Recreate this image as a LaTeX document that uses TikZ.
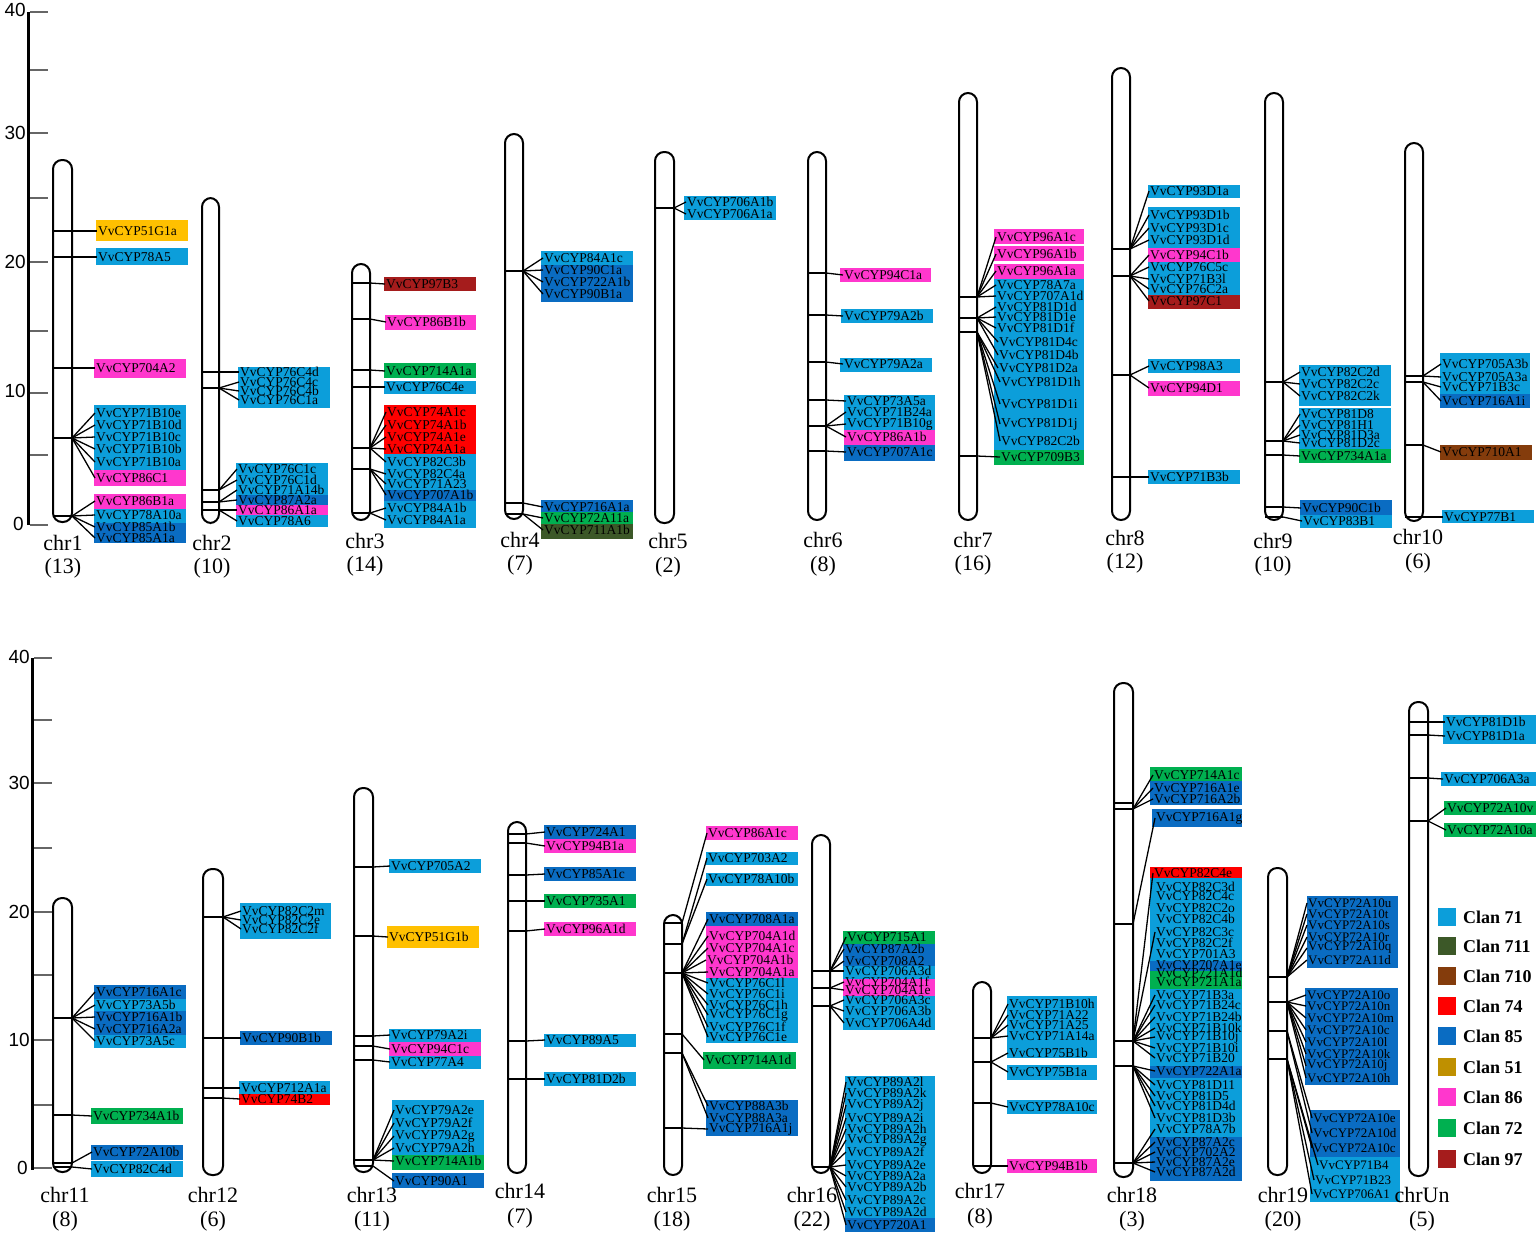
\documentclass[tikz,border=0pt]{standalone}
\usepackage{fontspec}
\setmainfont{Liberation Serif}
\newfontfamily\axfont{Liberation Sans}
\definecolor{cA}{RGB}{12,158,218}
\definecolor{cB}{RGB}{60,88,40}
\definecolor{cC}{RGB}{132,60,12}
\definecolor{cD}{RGB}{255,0,0}
\definecolor{cE}{RGB}{10,108,194}
\definecolor{cF}{RGB}{191,144,0}
\definecolor{cG}{RGB}{255,192,0}
\definecolor{cH}{RGB}{255,55,205}
\definecolor{cI}{RGB}{0,176,80}
\definecolor{cJ}{RGB}{165,28,28}
\newcommand{\Hub}[4]{\coordinate (#1) at (#3,#4);\draw[cn] (#2,#4) -- (#1);}
\newcommand{\GC}[5]{\node[gl] (#2) at (#3,#4) {VvCYP#5};\draw[cn] (#1) -- (#2.west);}
\newcommand{\GN}[4]{\node[gl] (#1) at (#2,#3) {VvCYP#4};}
\newcommand{\Bx}[5]{\fill[#1] (#2,#3) rectangle (#4,#5);}
\newcommand{\Chr}[4]{\draw[chromo] (#1,#3) rectangle (#2,#4);}
\begin{document}
\begin{tikzpicture}[x=1pt,y=-1pt,
 gl/.style={anchor=west,inner sep=1pt,font=\fontsize{13.5}{13.5}\selectfont},
 cn/.style={line width=1.3pt,black},
 chromo/.style={line width=2pt,rounded corners=9pt},
 chrl/.style={font=\fontsize{22}{22}\selectfont,inner sep=0pt},
 axl/.style={font=\axfont\fontsize{19}{19}\selectfont,anchor=east,inner sep=0pt},
 tk/.style={line width=1.2pt,black!60},
 lgsq/.style={minimum size=19pt,inner sep=0pt,draw=white,line width=0.6pt},
 lgt/.style={anchor=west,font=\bfseries\fontsize{18}{18}\selectfont,inner sep=0pt}]
\useasboundingbox (0,0) rectangle (1539,1235);
\fill[white] (0,0) rectangle (1539,1235);
% ===== axes =====
\draw[line width=3pt] (28,12) -- (28,525);
\foreach \t in {12,70,133,198,262,331,393,455,525} {\draw[tk] (30,\t) -- (48,\t);}
\node[axl] (ta40) at (26,10) {40};
\node[axl] (ta30) at (26,133) {30};
\node[axl] (ta20) at (26,262) {20};
\node[axl] (ta10) at (26,391) {10};
\node[axl] (ta0) at (24,524) {0};
\draw[line width=3pt] (32,658) -- (32,1170);
\foreach \t in {658,720,783,848,912,975,1040,1105,1168} {\draw[tk] (34,\t) -- (52,\t);}
\node[axl] (ba40) at (30,657) {40};
\node[axl] (ba30) at (30,783) {30};
\node[axl] (ba20) at (30,912) {20};
\node[axl] (ba10) at (30,1040) {10};
\node[axl] (ba0) at (28,1168) {0};
% ===== chr1 =====
\Bx{cG}{96}{220}{188}{241}
\Bx{cA}{96}{248}{188}{265}
\Bx{cH}{94}{359}{186}{378}
\Bx{cA}{94}{405}{186}{470}
\Bx{cH}{94}{470}{186}{486}
\Bx{cH}{94}{494}{186}{509}
\Bx{cA}{94}{509}{186}{523}
\Bx{cE}{94}{523}{186}{543}
\Chr{53}{72}{160}{522}
\node[chrl] (L1) at (63,543) {chr1};
\node[chrl] (N1) at (63,568) {(13)};
\Hub{h101}{53}{72}{231}\GC{h101}{g101}{97}{231}{51G1a}
\Hub{h102}{53}{72}{257}\GC{h102}{g102}{97}{257}{78A5}
\Hub{h103}{53}{72}{368}\GC{h103}{g103}{95}{368}{704A2}
\Hub{h104}{53}{72}{438}
\GC{h104}{g104}{95}{413}{71B10e}
\GC{h104}{g105}{95}{425}{71B10d}
\GC{h104}{g106}{95}{437}{71B10c}
\GC{h104}{g107}{95}{449}{71B10b}
\GC{h104}{g108}{95}{462}{71B10a}
\GC{h104}{g109}{95}{478}{86C1}
\Hub{h105}{53}{72}{516}
\GC{h105}{g110}{95}{501}{86B1a}
\GC{h105}{g111}{95}{515}{78A10a}
\GC{h105}{g112}{95}{527}{85A1b}
\GC{h105}{g113}{95}{538}{85A1a}
% ===== chr2 =====
\Bx{cA}{238}{367}{330}{408}
\Bx{cA}{236}{463}{328}{495}
\Bx{cE}{236}{495}{328}{505}
\Bx{cH}{236}{505}{328}{515}
\Bx{cA}{236}{515}{328}{527}
\Chr{202}{219}{198}{523}
\node[chrl] (L2) at (212,543) {chr2};
\node[chrl] (N2) at (212,568) {(10)};
\Hub{h201}{202}{219}{372}\GC{h201}{g201}{239}{372}{76C4d}
\Hub{h202}{202}{219}{388}
\GC{h202}{g202}{239}{382}{76C4c}
\GC{h202}{g203}{239}{391}{76C4b}
\GC{h202}{g204}{239}{400}{76C1a}
\Hub{h203}{202}{219}{490}
\GC{h203}{g205}{237}{469}{76C1c}
\GC{h203}{g206}{237}{480}{76C1d}
\Hub{h204}{202}{219}{502}
\GC{h204}{g207}{237}{490}{71A14b}
\GC{h204}{g208}{237}{500}{87A2a}
\Hub{h205}{202}{219}{510}
\GC{h205}{g209}{237}{510}{86A1a}
\GC{h205}{g210}{237}{521}{78A6}
% ===== chr3 =====
\Bx{cJ}{384}{277}{476}{291}
\Bx{cH}{385}{315}{476}{330}
\Bx{cI}{384}{363}{476}{378}
\Bx{cA}{384}{381}{476}{394}
\Bx{cD}{384}{405}{476}{454}
\Bx{cA}{384}{454}{476}{490}
\Bx{cE}{384}{490}{476}{501}
\Bx{cA}{384}{501}{476}{528}
\Chr{352}{370}{264}{520}
\node[chrl] (L3) at (365,541) {chr3};
\node[chrl] (N3) at (365,566) {(14)};
\Hub{h301}{352}{370}{283}\GC{h301}{g301}{385}{284}{97B3}
\Hub{h302}{352}{370}{319}\GC{h302}{g302}{386}{322}{86B1b}
\Hub{h303}{352}{370}{370}\GC{h303}{g303}{385}{371}{714A1a}
\Hub{h304}{352}{370}{387}\GC{h304}{g304}{385}{387}{76C4e}
\Hub{h305}{352}{370}{448}
\GC{h305}{g305}{386}{412}{74A1c}
\GC{h305}{g306}{386}{425}{74A1b}
\GC{h305}{g307}{386}{437}{74A1e}
\GC{h305}{g308}{386}{449}{74A1a}
\GC{h305}{g309}{386}{462}{82C3b}
\Hub{h306}{352}{370}{469}
\GC{h306}{g310}{386}{474}{82C4a}
\GC{h306}{g311}{386}{484}{71A23}
\GC{h306}{g312}{386}{495}{707A1b}
\Hub{h307}{352}{370}{513}
\GC{h307}{g313}{386}{508}{84A1b}
\GC{h307}{g314}{386}{520}{84A1a}
% ===== chr4 =====
\Bx{cA}{541}{251}{633}{265}
\Bx{cE}{541}{265}{633}{302}
\Bx{cE}{541}{500}{633}{512}
\Bx{cI}{541}{512}{633}{524}
\Bx{cB}{541}{524}{633}{539}
\Chr{505}{523}{134}{519}
\node[chrl] (L4) at (520,540) {chr4};
\node[chrl] (N4) at (520,565) {(7)};
\Hub{h401}{505}{523}{271}
\GC{h401}{g401}{543}{258}{84A1c}
\GC{h401}{g402}{543}{270}{90C1a}
\GC{h401}{g403}{543}{282}{722A1b}
\GC{h401}{g404}{543}{294}{90B1a}
\Hub{h402}{505}{523}{503}\GC{h402}{g405}{543}{507}{716A1a}
\Hub{h403}{505}{523}{514}
\GC{h403}{g406}{543}{518}{72A11a}
\GC{h403}{g407}{543}{530}{711A1b}
% ===== chr5 =====
\Bx{cA}{684}{196}{776}{220}
\Chr{655}{674}{152}{523}
\node[chrl] (L5) at (668,541) {chr5};
\node[chrl] (N5) at (668,567) {(2)};
\Hub{h501}{655}{674}{208}
\GC{h501}{g501}{686}{202}{706A1b}
\GC{h501}{g502}{686}{214}{706A1a}
% ===== chr6 =====
\Bx{cH}{840}{268}{931}{282}
\Bx{cA}{841}{309}{933}{323}
\Bx{cA}{840}{358}{932}{372}
\Bx{cA}{844}{395}{935}{430}
\Bx{cH}{844}{430}{935}{445}
\Bx{cE}{844}{445}{935}{461}
\Chr{808}{826}{152}{520}
\node[chrl] (L6) at (823,540) {chr6};
\node[chrl] (N6) at (823,566) {(8)};
\Hub{h601}{808}{826}{273}\GC{h601}{g601}{843}{275}{94C1a}
\Hub{h602}{808}{826}{315}\GC{h602}{g602}{843}{316}{79A2b}
\Hub{h603}{808}{826}{362}\GC{h603}{g603}{843}{364}{79A2a}
\Hub{h604}{808}{826}{400}\GC{h604}{g604}{846}{401}{73A5a}
\Hub{h605}{808}{826}{426}
\GC{h605}{g605}{846}{412}{71B24a}
\GC{h605}{g606}{846}{424}{71B10g}
\GC{h605}{g607}{846}{437}{86A1b}
\Hub{h606}{808}{826}{451}\GC{h606}{g608}{846}{452}{707A1c}
% ===== chr7 =====
\Bx{cH}{994}{229}{1084}{244}
\Bx{cH}{994}{246}{1084}{261}
\Bx{cH}{994}{264}{1084}{279}
\Bx{cA}{994}{279}{1084}{450}
\Bx{cI}{994}{450}{1084}{465}
\Chr{959}{977}{93}{520}
\node[chrl] (L7) at (973,540) {chr7};
\node[chrl] (N7) at (973,565) {(16)};
\Hub{h701}{959}{977}{297}
\GC{h701}{g701}{996}{237}{96A1c}
\GC{h701}{g702}{996}{254}{96A1b}
\GC{h701}{g703}{996}{271}{96A1a}
\GC{h701}{g704}{996}{285}{78A7a}
\GC{h701}{g705}{996}{296}{707A1d}
\Hub{h702}{959}{977}{318}
\GC{h702}{g706}{996}{307}{81D1d}
\GC{h702}{g707}{996}{317}{81D1e}
\GC{h702}{g708}{996}{328}{81D1f}
\GC{h702}{g709}{998}{342}{81D4c}
\GC{h702}{g710}{998}{355}{81D4b}
\Hub{h703}{959}{977}{332}
\GC{h703}{g711}{998}{368}{81D2a}
\GC{h703}{g712}{1000}{382}{81D1h}
\GC{h703}{g713}{1000}{404}{81D1i}
\GC{h703}{g714}{1000}{424}{81D1j}
\GC{h703}{g715}{1000}{441}{82C2b}
\Hub{h704}{959}{977}{456}\GC{h704}{g716}{1000}{457}{709B3}
% ===== chr8 =====
\Bx{cA}{1148}{185}{1240}{198}
\Bx{cA}{1148}{207}{1240}{248}
\Bx{cH}{1148}{248}{1240}{262}
\Bx{cA}{1148}{262}{1240}{295}
\Bx{cJ}{1148}{295}{1240}{309}
\Bx{cA}{1148}{359}{1240}{373}
\Bx{cH}{1148}{381}{1240}{396}
\Bx{cA}{1148}{470}{1240}{484}
\Chr{1112}{1130}{68}{520}
\node[chrl] (L8) at (1125,538) {chr8};
\node[chrl] (N8) at (1125,563) {(12)};
\Hub{h801}{1112}{1130}{249}
\GC{h801}{g801}{1149}{191}{93D1a}
\GC{h801}{g802}{1149}{215}{93D1b}
\GC{h801}{g803}{1149}{228}{93D1c}
\GC{h801}{g804}{1149}{240}{93D1d}
\Hub{h802}{1112}{1130}{276}
\GC{h802}{g805}{1149}{255}{94C1b}
\GC{h802}{g806}{1149}{267}{76C5c}
\GC{h802}{g807}{1149}{279}{71B3l}
\GC{h802}{g808}{1149}{289}{76C2a}
\GC{h802}{g809}{1149}{301}{97C1}
\Hub{h803}{1112}{1130}{375}
\GC{h803}{g810}{1149}{366}{98A3}
\GC{h803}{g811}{1149}{388}{94D1}
\Hub{h804}{1112}{1130}{477}\GC{h804}{g812}{1149}{477}{71B3b}
% ===== chr9 =====
\Bx{cA}{1299}{365}{1391}{406}
\Bx{cA}{1299}{408}{1391}{449}
\Bx{cI}{1299}{449}{1391}{463}
\Bx{cE}{1300}{500}{1392}{515}
\Bx{cA}{1300}{515}{1392}{528}
\Chr{1265}{1283}{93}{520}
\node[chrl] (L9) at (1273,541) {chr9};
\node[chrl] (N9) at (1273,566) {(10)};
\Hub{h901}{1265}{1283}{382}
\GC{h901}{g901}{1300}{372}{82C2d}
\GC{h901}{g902}{1300}{384}{82C2c}
\GC{h901}{g903}{1300}{396}{82C2k}
\Hub{h902}{1265}{1283}{441}
\GC{h902}{g904}{1300}{414}{81D8}
\GC{h902}{g905}{1300}{425}{81H1}
\GC{h902}{g906}{1300}{435}{81D3a}
\GC{h902}{g907}{1300}{443}{81D2c}
\Hub{h903}{1265}{1283}{455}\GC{h903}{g908}{1300}{456}{734A1a}
\Hub{h904}{1265}{1283}{507}\GC{h904}{g909}{1301}{508}{90C1b}
\Hub{h905}{1265}{1283}{517}\GC{h905}{g910}{1302}{521}{83B1}
% ===== chr10 =====
\Bx{cA}{1440}{353}{1530}{394}
\Bx{cE}{1440}{394}{1530}{408}
\Bx{cC}{1440}{445}{1532}{460}
\Bx{cA}{1442}{510}{1534}{523}
\Chr{1405}{1423}{143}{521}
\node[chrl] (L10) at (1418,537) {chr10};
\node[chrl] (N10) at (1418,563) {(6)};
\Hub{h1001}{1405}{1423}{376}
\GC{h1001}{g1001}{1441}{364}{705A3b}
\GC{h1001}{g1002}{1441}{377}{705A3a}
\Hub{h1002}{1405}{1423}{382}
\GC{h1002}{g1003}{1441}{387}{71B3c}
\GC{h1002}{g1004}{1441}{401}{716A1i}
\Hub{h1003}{1405}{1423}{445}\GC{h1003}{g1005}{1441}{452}{710A1}
\Hub{h1004}{1405}{1423}{517}\GC{h1004}{g1006}{1443}{517}{77B1}
% ===== chr11 =====
\Bx{cE}{94}{985}{186}{999}
\Bx{cA}{94}{999}{186}{1011}
\Bx{cE}{94}{1011}{186}{1035}
\Bx{cA}{94}{1035}{186}{1048}
\Bx{cI}{91}{1108}{183}{1124}
\Bx{cE}{91}{1145}{183}{1160}
\Bx{cA}{91}{1161}{183}{1177}
\Chr{53}{72}{898}{1172}
\node[chrl] (L11) at (65,1195) {chr11};
\node[chrl] (N11) at (65,1221) {(8)};
\Hub{h1101}{53}{72}{1018}
\GC{h1101}{g1101}{95}{992}{716A1c}
\GC{h1101}{g1102}{95}{1005}{73A5b}
\GC{h1101}{g1103}{95}{1017}{716A1b}
\GC{h1101}{g1104}{95}{1029}{716A2a}
\GC{h1101}{g1105}{95}{1041}{73A5c}
\Hub{h1102}{53}{72}{1115}\GC{h1102}{g1106}{92}{1116}{734A1b}
\Hub{h1103}{53}{72}{1163}\GC{h1103}{g1107}{92}{1152}{72A10b}
\Hub{h1104}{53}{72}{1167}\GC{h1104}{g1108}{92}{1169}{82C4d}
% ===== chr12 =====
\Bx{cA}{240}{903}{331}{939}
\Bx{cE}{240}{1031}{332}{1045}
\Bx{cA}{239}{1081}{330}{1094}
\Bx{cD}{239}{1094}{330}{1105}
\Chr{203}{223}{869}{1175}
\node[chrl] (L12) at (213,1195) {chr12};
\node[chrl] (N12) at (213,1221) {(6)};
\Hub{h1201}{203}{223}{917}
\GC{h1201}{g1201}{241}{911}{82C2m}
\GC{h1201}{g1202}{241}{920}{82C2e}
\GC{h1201}{g1203}{241}{929}{82C2f}
\Hub{h1202}{203}{223}{1038}\GC{h1202}{g1204}{241}{1038}{90B1b}
\Hub{h1203}{203}{223}{1088}\GC{h1203}{g1205}{240}{1088}{712A1a}
\Hub{h1204}{203}{223}{1098}\GC{h1204}{g1206}{240}{1099}{74B2}
% ===== chr13 =====
\Bx{cA}{389}{859}{481}{873}
\Bx{cG}{387}{926}{479}{948}
\Bx{cA}{389}{1029}{481}{1042}
\Bx{cH}{389}{1042}{481}{1056}
\Bx{cA}{389}{1056}{481}{1069}
\Bx{cA}{392}{1100}{484}{1155}
\Bx{cI}{392}{1155}{484}{1170}
\Bx{cE}{392}{1173}{484}{1188}
\Chr{354}{373}{788}{1172}
\node[chrl] (L13) at (372,1195) {chr13};
\node[chrl] (N13) at (372,1221) {(11)};
\Hub{h1301}{354}{373}{867}\GC{h1301}{g1301}{390}{866}{705A2}
\Hub{h1302}{354}{373}{936}\GC{h1302}{g1302}{388}{937}{51G1b}
\Hub{h1303}{354}{373}{1036}\GC{h1303}{g1303}{390}{1035}{79A2i}
\Hub{h1304}{354}{373}{1046}\GC{h1304}{g1304}{390}{1049}{94C1c}
\Hub{h1305}{354}{373}{1060}\GC{h1305}{g1305}{390}{1062}{77A4}
\Hub{h1306}{354}{373}{1160}
\GC{h1306}{g1306}{394}{1110}{79A2e}
\GC{h1306}{g1307}{394}{1123}{79A2f}
\GC{h1306}{g1308}{394}{1136}{79A2g}
\GC{h1306}{g1309}{394}{1148}{79A2h}
\GC{h1306}{g1310}{394}{1161}{714A1b}
\Hub{h1307}{354}{373}{1166}\GC{h1307}{g1311}{394}{1181}{90A1}
% ===== chr14 =====
\Bx{cE}{544}{825}{636}{839}
\Bx{cH}{544}{839}{636}{853}
\Bx{cE}{544}{867}{636}{881}
\Bx{cI}{544}{894}{636}{908}
\Bx{cH}{544}{922}{636}{936}
\Bx{cA}{544}{1034}{636}{1047}
\Bx{cA}{544}{1072}{636}{1086}
\Chr{508}{526}{822}{1173}
\node[chrl] (L14) at (520,1191) {chr14};
\node[chrl] (N14) at (520,1218) {(7)};
\Hub{h1401}{508}{526}{834}\GC{h1401}{g1401}{545}{832}{724A1}
\Hub{h1402}{508}{526}{843}\GC{h1402}{g1402}{545}{846}{94B1a}
\Hub{h1403}{508}{526}{875}\GC{h1403}{g1403}{545}{874}{85A1c}
\Hub{h1404}{508}{526}{901}\GC{h1404}{g1404}{545}{901}{735A1}
\Hub{h1405}{508}{526}{931}\GC{h1405}{g1405}{545}{929}{96A1d}
\Hub{h1406}{508}{526}{1041}\GC{h1406}{g1406}{545}{1040}{89A5}
\Hub{h1407}{508}{526}{1079}\GC{h1407}{g1407}{545}{1079}{81D2b}
% ===== chr15 =====
\Bx{cH}{706}{826}{798}{840}
\Bx{cA}{706}{852}{798}{865}
\Bx{cA}{706}{873}{798}{886}
\Bx{cE}{706}{912}{798}{926}
\Bx{cH}{706}{926}{798}{978}
\Bx{cA}{706}{978}{798}{1043}
\Bx{cI}{703}{1052}{796}{1069}
\Bx{cE}{706}{1100}{798}{1136}
\Chr{664}{682}{915}{1175}
\node[chrl] (L15) at (672,1195) {chr15};
\node[chrl] (N15) at (672,1221) {(18)};
\Hub{h1501}{664}{682}{923}\GC{h1501}{g1501}{707}{833}{86A1c}
\Hub{h1502}{664}{682}{944}
\GC{h1502}{g1502}{707}{858}{703A2}
\GC{h1502}{g1503}{707}{879}{78A10b}
\Hub{h1503}{664}{682}{973}
\GC{h1503}{g1504}{708}{919}{708A1a}
\GC{h1503}{g1505}{708}{936}{704A1d}
\GC{h1503}{g1506}{708}{948}{704A1c}
\GC{h1503}{g1507}{706}{960}{704A1b}
\GC{h1503}{g1508}{708}{972}{704A1a}
\GC{h1503}{g1509}{708}{983}{76C1l}
\GC{h1503}{g1510}{708}{994}{76C1i}
\GC{h1503}{g1511}{708}{1005}{76C1h}
\GC{h1503}{g1512}{708}{1015}{76C1g}
\GC{h1503}{g1513}{708}{1027}{76C1f}
\GC{h1503}{g1514}{708}{1037}{76C1e}
\Hub{h1504}{664}{682}{1034}\GC{h1504}{g1515}{704}{1060}{714A1d}
\Hub{h1505}{664}{682}{1053}
\GC{h1505}{g1516}{708}{1106}{88A3b}
\GC{h1505}{g1517}{708}{1118}{88A3a}
\Hub{h1506}{664}{682}{1128}\GC{h1506}{g1518}{708}{1129}{716A1j}
% ===== chr16 =====
\Bx{cI}{843}{931}{935}{944}
\Bx{cE}{843}{944}{935}{966}
\Bx{cA}{843}{966}{935}{979}
\Bx{cH}{843}{979}{935}{996}
\Bx{cA}{843}{996}{935}{1030}
\Bx{cA}{845}{1076}{935}{1218}
\Bx{cE}{845}{1218}{935}{1232}
\Chr{812}{830}{835}{1173}
\node[chrl] (L16) at (812,1195) {chr16};
\node[chrl] (N16) at (812,1221) {(22)};
\Hub{h1601}{812}{830}{971}
\GC{h1601}{g1601}{846}{937}{715A1}
\GC{h1601}{g1602}{844}{949}{87A2b}
\GC{h1601}{g1603}{844}{961}{708A2}
\GC{h1601}{g1604}{844}{971}{706A3d}
\Hub{h1602}{812}{830}{988}
\GC{h1602}{g1605}{844}{982}{704A1f}
\GC{h1602}{g1606}{844}{990}{704A1e}
\Hub{h1603}{812}{830}{1006}
\GC{h1603}{g1607}{844}{1000}{706A3c}
\GC{h1603}{g1608}{844}{1011}{706A3b}
\GC{h1603}{g1609}{844}{1023}{706A4d}
\Hub{h1604}{812}{830}{1167}
\GC{h1604}{g1610}{846}{1082}{89A2l}
\GC{h1604}{g1611}{846}{1093}{89A2k}
\GC{h1604}{g1612}{846}{1105}{89A2j}
\GC{h1604}{g1613}{846}{1118}{89A2i}
\GC{h1604}{g1614}{846}{1129}{89A2h}
\GC{h1604}{g1615}{846}{1140}{89A2g}
\GC{h1604}{g1616}{846}{1152}{89A2f}
\GC{h1604}{g1617}{846}{1165}{89A2e}
\GC{h1604}{g1618}{846}{1176}{89A2a}
\GC{h1604}{g1619}{846}{1187}{89A2b}
\GC{h1604}{g1620}{846}{1200}{89A2c}
\GC{h1604}{g1621}{846}{1212}{89A2d}
\GC{h1604}{g1622}{846}{1225}{720A1}
% ===== chr17 =====
\Bx{cA}{1007}{996}{1097}{1058}
\Bx{cA}{1007}{1065}{1097}{1080}
\Bx{cA}{1007}{1100}{1097}{1114}
\Bx{cH}{1007}{1159}{1097}{1173}
\Chr{973}{991}{982}{1173}
\node[chrl] (L17) at (980,1191) {chr17};
\node[chrl] (N17) at (980,1218) {(8)};
\Hub{h1701}{973}{991}{1038}
\GC{h1701}{g1701}{1008}{1004}{71B10h}
\GC{h1701}{g1702}{1008}{1015}{71A22}
\GC{h1701}{g1703}{1008}{1025}{71A25}
\GC{h1701}{g1704}{1008}{1036}{71A14a}
\Hub{h1702}{973}{991}{1062}
\GC{h1702}{g1705}{1008}{1053}{75B1b}
\GC{h1702}{g1706}{1008}{1072}{75B1a}
\Hub{h1703}{973}{991}{1103}\GC{h1703}{g1707}{1008}{1107}{78A10c}
\Hub{h1704}{973}{991}{1166}\GC{h1704}{g1708}{1008}{1166}{94B1b}
% ===== chr18 =====
\Bx{cI}{1150}{767}{1242}{781}
\Bx{cE}{1150}{781}{1242}{805}
\Bx{cE}{1152}{809}{1242}{827}
\Bx{cD}{1150}{867}{1242}{878}
\Bx{cA}{1150}{878}{1242}{961}
\Bx{cE}{1150}{961}{1242}{971}
\Bx{cI}{1150}{971}{1242}{989}
\Bx{cA}{1150}{989}{1242}{1066}
\Bx{cE}{1150}{1066}{1242}{1078}
\Bx{cA}{1150}{1078}{1242}{1137}
\Bx{cE}{1150}{1137}{1242}{1181}
\Chr{1114}{1133}{683}{1177}
\node[chrl] (L18) at (1132,1195) {chr18};
\node[chrl] (N18) at (1132,1221) {(3)};
\draw[cn] (1114,803) -- (1133,803);
\Hub{h1801}{1114}{1133}{809}
\GC{h1801}{g1801}{1153}{775}{714A1c}
\GC{h1801}{g1802}{1153}{788}{716A1e}
\GC{h1801}{g1803}{1153}{799}{716A2b}
\Hub{h1802}{1114}{1133}{924}\GC{h1802}{g1804}{1155}{818}{716A1g}
\Hub{h1803}{1114}{1133}{1041}
\GC{h1803}{g1805}{1153}{873}{82C4e}
\GN{g1806}{1155}{887}{82C3d}
\GN{g1807}{1155}{896}{82C4c}
\GN{g1808}{1155}{908}{82C2o}
\GN{g1809}{1155}{919}{82C4b}
\GC{h1803}{g1810}{1155}{932}{82C3c}
\GN{g1811}{1155}{943}{82C2f}
\GN{g1812}{1155}{954}{701A3}
\GN{g1813}{1155}{965}{707A1e}
\GN{g1814}{1155}{973}{721A1d}
\GN{g1815}{1155}{982}{721A1a}
\GC{h1803}{g1816}{1155}{995}{71B3a}
\GC{h1803}{g1817}{1155}{1005}{71B24c}
\GC{h1803}{g1818}{1155}{1017}{71B24b}
\GC{h1803}{g1819}{1155}{1028}{71B10k}
\GC{h1803}{g1820}{1155}{1037}{71B10j}
\GC{h1803}{g1821}{1155}{1048}{71B10i}
\GC{h1803}{g1822}{1155}{1058}{71B20}
\Hub{h1804}{1114}{1133}{1066}
\GC{h1804}{g1823}{1155}{1071}{722A1a}
\GC{h1804}{g1824}{1155}{1085}{81D11}
\GC{h1804}{g1825}{1155}{1096}{81D5}
\GC{h1804}{g1826}{1155}{1106}{81D4d}
\GC{h1804}{g1827}{1155}{1118}{81D3b}
\Hub{h1805}{1114}{1133}{1163}
\GC{h1805}{g1828}{1155}{1129}{78A7b}
\GC{h1805}{g1829}{1155}{1142}{87A2c}
\GC{h1805}{g1830}{1155}{1152}{702A2}
\GC{h1805}{g1831}{1155}{1162}{87A2e}
\GC{h1805}{g1832}{1155}{1172}{87A2d}
% ===== chr19 =====
\Bx{cE}{1307}{896}{1398}{968}
\Bx{cE}{1305}{988}{1398}{1085}
\Bx{cE}{1310}{1110}{1400}{1157}
\Bx{cA}{1310}{1157}{1400}{1202}
\Chr{1268}{1287}{868}{1175}
\node[chrl] (L19) at (1283,1195) {chr19};
\node[chrl] (N19) at (1283,1221) {(20)};
\begin{scope}[gl/.append style={font=\fontsize{13}{13}\selectfont}]
\Hub{h1901}{1268}{1287}{977}
\GC{h1901}{g1901}{1307}{903}{72A10u}
\GC{h1901}{g1902}{1307}{914}{72A10t}
\GC{h1901}{g1903}{1307}{925}{72A10s}
\GC{h1901}{g1904}{1307}{937}{72A10r}
\GC{h1901}{g1905}{1307}{948}{72A10q}
\GC{h1901}{g1906}{1307}{960}{72A11d}
\Hub{h1902}{1268}{1287}{1002}
\GC{h1902}{g1907}{1306}{995}{72A10o}
\GC{h1902}{g1908}{1306}{1006}{72A10n}
\GC{h1902}{g1909}{1306}{1018}{72A10m}
\GC{h1902}{g1910}{1306}{1030}{72A10c}
\GC{h1902}{g1911}{1306}{1042}{72A10l}
\GC{h1902}{g1912}{1306}{1054}{72A10k}
\GC{h1902}{g1913}{1306}{1066}{72A10j}
\GC{h1902}{g1914}{1306}{1078}{72A10h}
\Hub{h1903}{1268}{1287}{1031}
\GC{h1903}{g1915}{1312}{1118}{72A10e}
\GC{h1903}{g1916}{1312}{1133}{72A10d}
\Hub{h1904}{1268}{1287}{1059}
\GC{h1904}{g1917}{1312}{1148}{72A10c}
\GC{h1904}{g1918}{1318}{1165}{71B4}
\GC{h1904}{g1919}{1314}{1180}{71B23}
\GC{h1904}{g1920}{1312}{1194}{706A1}
\end{scope}
% ===== chrUn =====
\Bx{cA}{1443}{715}{1536}{744}
\Bx{cA}{1441}{772}{1536}{786}
\Bx{cI}{1444}{801}{1536}{815}
\Bx{cI}{1444}{823}{1536}{837}
\Chr{1409}{1428}{702}{1176}
\node[chrl] (LUn) at (1422,1195) {chrUn};
\node[chrl] (NUn) at (1422,1221) {(5)};
\Hub{h2001}{1409}{1428}{722}\GC{h2001}{g2001}{1445}{722}{81D1b}
\Hub{h2002}{1409}{1428}{735}\GC{h2002}{g2002}{1445}{736}{81D1a}
\Hub{h2003}{1409}{1428}{778}\GC{h2003}{g2003}{1443}{779}{706A3a}
\Hub{h2004}{1409}{1428}{821}
\GC{h2004}{g2004}{1446}{808}{72A10v}
\GC{h2004}{g2005}{1446}{830}{72A10a}
% ===== legend =====
\node[lgsq,fill=cA] (s1) at (1446.5,917) {};
\node[lgsq,fill=cB] (s2) at (1446.5,946) {};
\node[lgsq,fill=cC] (s3) at (1446.5,976) {};
\node[lgsq,fill=cD] (s4) at (1446.5,1006) {};
\node[lgsq,fill=cE] (s5) at (1446.5,1036) {};
\node[lgsq,fill=cF] (s6) at (1446.5,1067) {};
\node[lgsq,fill=cH] (s7) at (1446.5,1097) {};
\node[lgsq,fill=cI] (s8) at (1446.5,1128) {};
\node[lgsq,fill=cJ] (s9) at (1446.5,1159) {};
\node[lgt] (t1) at (1463,917) {Clan 71};
\node[lgt] (t2) at (1463,946) {Clan 711};
\node[lgt] (t3) at (1463,976) {Clan 710};
\node[lgt] (t4) at (1463,1006) {Clan 74};
\node[lgt] (t5) at (1463,1036) {Clan 85};
\node[lgt] (t6) at (1463,1067) {Clan 51};
\node[lgt] (t7) at (1463,1097) {Clan 86};
\node[lgt] (t8) at (1463,1128) {Clan 72};
\node[lgt] (t9) at (1463,1159) {Clan 97};
\end{tikzpicture}
\end{document}
